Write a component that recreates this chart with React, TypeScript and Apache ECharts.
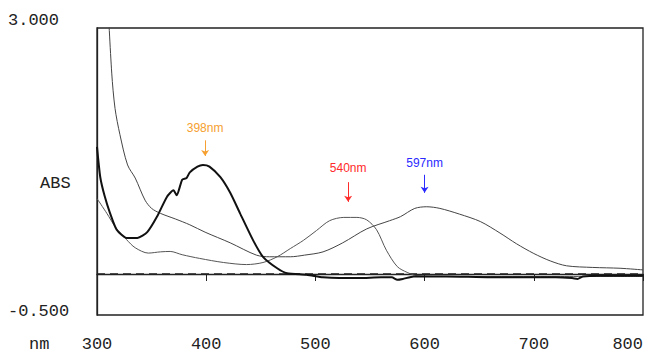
import React, { useEffect, useRef } from "react";
import * as echarts from "echarts";

// Wavelength (nm) / absorbance pairs
const thickNm = [300, 303, 307, 312, 318, 327, 337, 346, 355, 364, 370, 373, 378, 382, 385, 392, 397, 403, 413, 422, 431, 443, 452, 465, 474, 492, 507, 522, 540, 560, 570, 575, 580, 590, 620, 660, 700, 720, 735, 740, 745, 760, 800];
const thickAbs = [1.55, 1.18, 0.95, 0.74, 0.54, 0.44, 0.44, 0.51, 0.7, 0.94, 1.02, 0.96, 1.15, 1.17, 1.24, 1.31, 1.33, 1.31, 1.18, 0.99, 0.74, 0.41, 0.21, 0.07, 0.01, -0.01, -0.04, -0.05, -0.05, -0.04, -0.04, -0.07, -0.06, -0.03, -0.03, -0.04, -0.04, -0.04, -0.05, -0.06, -0.03, -0.02, -0.02];

const redNm = [300, 309, 317, 327, 335, 347, 358, 367, 378, 394, 416, 437, 452, 465, 477, 489, 501, 513, 526, 538, 547, 556, 565, 575, 584, 593, 620, 700, 800];
const redAbs = [0.92, 0.74, 0.57, 0.42, 0.32, 0.255, 0.27, 0.275, 0.235, 0.19, 0.14, 0.115, 0.14, 0.21, 0.31, 0.41, 0.53, 0.65, 0.69, 0.69, 0.66, 0.54, 0.29, 0.09, 0.02, -0.02, -0.03, -0.03, -0.03];

const blueNm = [310, 313.5, 316.5, 321, 328, 335, 344, 350, 358, 372, 385, 399, 422, 446, 458, 477, 490, 507, 525, 547, 568, 578, 591, 602, 614, 632, 651, 669, 684, 700, 715, 730, 754, 779, 800];
const blueAbs = [3.3, 2.45, 2.02, 1.7, 1.33, 1.17, 0.9, 0.8, 0.74, 0.67, 0.6, 0.51, 0.38, 0.23, 0.21, 0.21, 0.23, 0.27, 0.38, 0.55, 0.65, 0.7, 0.8, 0.82, 0.8, 0.73, 0.64, 0.5, 0.37, 0.25, 0.16, 0.1, 0.08, 0.07, 0.05];

// Zero baseline (dashed)
const baselineNm = [300, 800];
const baselineAbs = [0, 0];

// Peak annotations
const peakLabels = ["398nm", "540nm", "597nm"];
const peakColors = ["#f5a030", "#ff2a2a", "#2a2aff"];
const peakX = [399, 530, 600];
const peakLabelY = [1.78, 1.29, 1.35];
const peakArrowTop = [1.63, 1.12, 1.21];
const peakArrowBottom = [1.44, 0.88, 0.99];

const xTicks = [300, 400, 500, 600, 700, 800];
const yTicks = [-0.5, 3.0];

const zip = (xs: number[], ys: number[]) => xs.map((x, i) => [x, ys[i]]);

const annotation = (i: number) => ({
  markPoint: {
    symbol: "circle",
    symbolSize: 0,
    silent: true,
    data: [
      {
        coord: [peakX[i], peakLabelY[i]],
        label: {
          show: true,
          position: "inside",
          formatter: peakLabels[i],
          color: peakColors[i],
          fontFamily: "Liberation Sans",
          fontSize: 12,
        },
      },
    ],
  },
  markLine: {
    silent: true,
    symbol: ["none", "arrow"],
    symbolSize: 6,
    label: { show: false },
    lineStyle: { color: peakColors[i], width: 1, type: "solid" },
    data: [[{ coord: [peakX[i], peakArrowTop[i]] }, { coord: [peakX[i], peakArrowBottom[i]] }]],
  },
});

export default function App() {
  const ref = useRef<HTMLDivElement>(null);
  useEffect(() => {
    document.body.style.margin = "0";
    const chart = echarts.init(ref.current!, null, { renderer: "svg" });
    const axisFont = { fontFamily: "Liberation Mono", fontSize: 17, color: "#222" };
    chart.setOption({
      animation: false,
      backgroundColor: "#fff",
      grid: {
        left: 97,
        top: 28,
        right: 8,
        bottom: 38,
        show: true,
        borderColor: "#222",
        borderWidth: 1.3,
      },
      xAxis: {
        type: "value",
        min: 300,
        max: 800,
        interval: 100,
        axisLine: { show: true, lineStyle: { color: "#222", width: 1.3 } },
        axisTick: { show: true, length: 7, lineStyle: { color: "#222" }, customValues: xTicks },
        splitLine: { show: false },
        axisLabel: { ...axisFont, margin: 21, customValues: xTicks, alignMaxLabel: "right" },
      },
      yAxis: {
        type: "value",
        min: -0.5,
        max: 3.0,
        axisLine: { show: true, lineStyle: { color: "#222", width: 1.3 } },
        axisTick: { show: false },
        splitLine: { show: false },
        axisLabel: {
          ...axisFont,
          customValues: yTicks,
          formatter: (v: number) => (v > 0 ? "{hi|" + v.toFixed(3) + "}" : "{lo|" + v.toFixed(3) + "}"),
          rich: {
            hi: { ...axisFont, lineHeight: 15 },
            lo: { ...axisFont, lineHeight: 8 },
          },
          align: "left",
          verticalAlign: "bottom",
          margin: 89,
        },
      },
      graphic: [
        { type: "text", left: 40, top: 175, style: { text: "ABS", fill: "#222", font: "17px 'Liberation Mono'" } },
        { type: "text", left: 29, top: 336, style: { text: "nm", fill: "#222", font: "17px 'Liberation Mono'" } },
      ],
      series: [
        {
          type: "line",
          data: zip(baselineNm, baselineAbs),
          showSymbol: false,
          lineStyle: { color: "#222", width: 1.3, type: [8, 5] },
          z: 1,
        },
        {
          type: "line",
          data: zip(blueNm, blueAbs),
          showSymbol: false,
          smooth: 0.3,
          lineStyle: { color: "#444", width: 1 },
          ...annotation(2),
        },
        {
          type: "line",
          data: zip(redNm, redAbs),
          showSymbol: false,
          smooth: 0.3,
          lineStyle: { color: "#555", width: 1 },
          ...annotation(1),
        },
        {
          type: "line",
          data: zip(thickNm, thickAbs),
          showSymbol: false,
          smooth: 0.2,
          lineStyle: { color: "#111", width: 2 },
          ...annotation(0),
        },
      ],
    });
    return () => chart.dispose();
  }, []);
  return <div ref={ref} style={{ width: 651, height: 353 }} />;
}
